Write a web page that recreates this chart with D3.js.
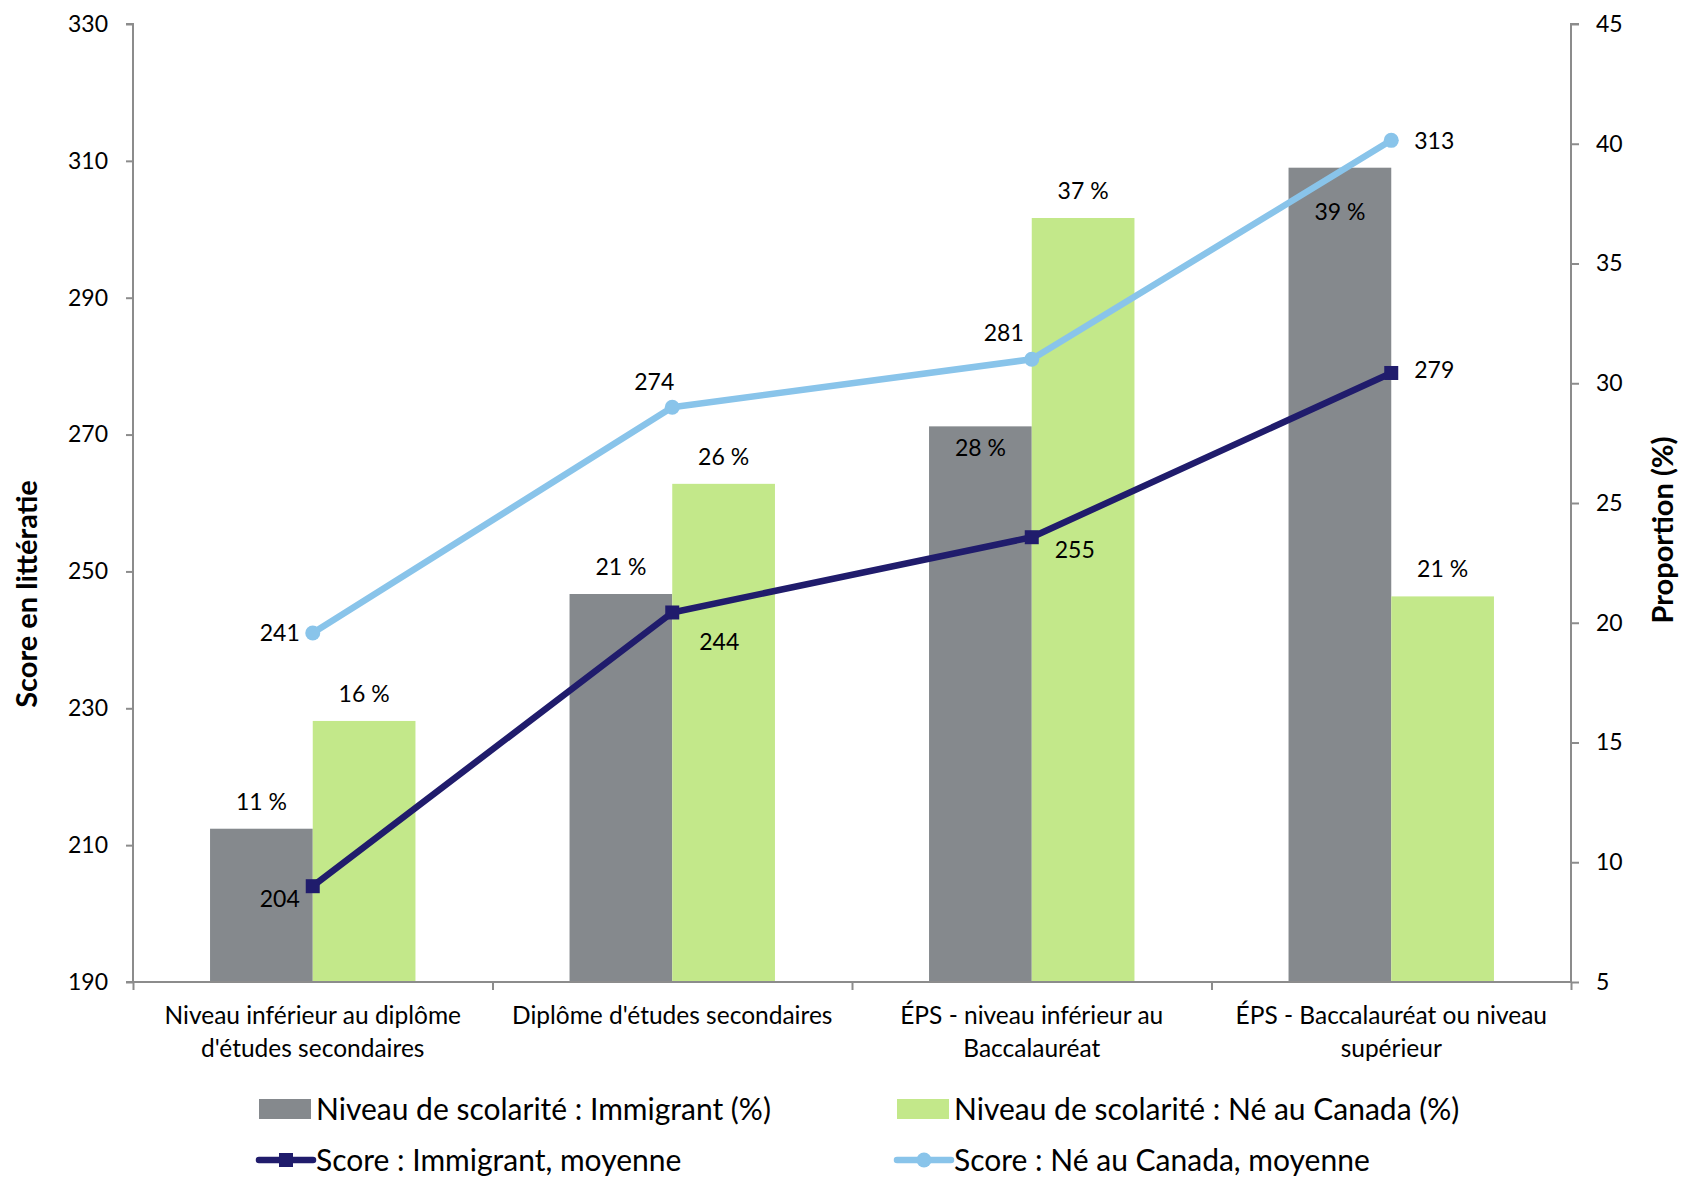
<!DOCTYPE html>
<html><head><meta charset="utf-8">
<script src="https://cdn.jsdelivr.net/npm/d3@7"></script>
<style>
body{margin:0;background:#fff;}
text{font-family:Lato,"Open Sans",sans-serif;fill:#000;}
</style></head>
<body><svg id="c" width="1685" height="1177"></svg>
<script>
const categories = [
  ["Niveau inférieur au diplôme","d'études secondaires"],
  ["Diplôme d'études secondaires"],
  ["ÉPS - niveau inférieur au","Baccalauréat"],
  ["ÉPS - Baccalauréat ou niveau","supérieur"]
];
const immigrantPct = [11.4, 21.2, 28.2, 39.0];
const canadaPct = [15.9, 25.8, 36.9, 21.1];
const immigrantScore = [204, 244, 255, 279];
const canadaScore = [241, 274, 281, 313];
const leftTicks = [190, 210, 230, 250, 270, 290, 310, 330];
const rightTicks = [5, 10, 15, 20, 25, 30, 35, 40, 45];
const seriesNames = ["Niveau de scolarité : Immigrant (%)","Niveau de scolarité : Né au Canada (%)","Score : Immigrant, moyenne","Score : Né au Canada, moyenne"];

// label offsets (layout only)
const barLabelDy = {imm:[-27,-27,22,44], can:[-27,-27,-27,-27]};
const immLabelOff = [[-33,13],[47,29],[43,13],[43,-3]];
const canLabelOff = [[-33,0],[-18,-25],[-28,-26],[43,1]];

const C = {gray:"#85898D", green:"#C3E88A", navy:"#201C6C", blue:"#89C4EA", axis:"#8C8C8C"};
const L = 133, R = 1571, T = 24, B = 982;
const NUM = "23px", CAT = "24.5px", LEG = "30px", TITLE = "29px";
const svg = d3.select("#c");

const x = d3.scaleBand().domain(d3.range(categories.length)).range([L, R]).paddingInner(0).paddingOuter(0);
const yL = d3.scaleLinear().domain([190, 330]).range([B, T]);
const yR = d3.scaleLinear().domain([5, 45]).range([B, T]);
const bw = x.bandwidth() * 0.2857;
const cx = i => x(i) + x.bandwidth() / 2;

// bars
const g = svg.append("g");
g.selectAll(".bi").data(immigrantPct).join("rect")
  .attr("x", (d,i) => cx(i) - bw).attr("width", bw)
  .attr("y", d => yR(d)).attr("height", d => B - yR(d)).attr("fill", C.gray);
g.selectAll(".bc").data(canadaPct).join("rect")
  .attr("x", (d,i) => cx(i)).attr("width", bw)
  .attr("y", d => yR(d)).attr("height", d => B - yR(d)).attr("fill", C.green);

// axes
const axL = svg.append("g").attr("transform", `translate(${L},0)`)
  .call(d3.axisLeft(yL).tickValues(leftTicks).tickSize(7).tickPadding(18));
const axR = svg.append("g").attr("transform", `translate(${R},0)`)
  .call(d3.axisRight(yR).tickValues(rightTicks).tickSize(8).tickPadding(17));
const axB = svg.append("g").attr("transform", `translate(0,${B})`)
  .call(d3.axisBottom(d3.scaleLinear().domain([0,4]).range([L,R])).tickValues([0,1,2,3,4]).tickSize(8).tickFormat(""));
[axL, axR, axB].forEach(a => {
  a.selectAll("path,line").attr("stroke", C.axis).attr("stroke-width", 2);
  a.selectAll("text").style("font-size", NUM).attr("fill", "#000").style("font-family", "Lato");
});
axB.select("path").attr("d", `M${L},0H${R}`);
axL.select("path").attr("d", `M-7,${T}H0V${B}H-7`);
axR.select("path").attr("d", `M8,${T}H0V${B}`);

// category labels
categories.forEach((lines, i) => {
  const t = svg.append("text").attr("x", cx(i)).attr("y", 1024).attr("text-anchor", "middle").style("font-size", CAT);
  lines.forEach((ln, j) => t.append("tspan").attr("x", cx(i)).attr("dy", j ? 33 : 0).text(ln));
});

// lines
const lineGen = (arr) => d3.line().x((d,i) => cx(i)).y(d => yL(d))(arr);
svg.append("path").attr("d", lineGen(canadaScore)).attr("fill", "none").attr("stroke", C.blue).attr("stroke-width", 6.5).attr("stroke-linejoin", "round");
svg.selectAll(".cm").data(canadaScore).join("circle").attr("cx", (d,i) => cx(i)).attr("cy", d => yL(d)).attr("r", 7.5).attr("fill", C.blue);
svg.append("path").attr("d", lineGen(immigrantScore)).attr("fill", "none").attr("stroke", C.navy).attr("stroke-width", 6.5).attr("stroke-linejoin", "round");
svg.selectAll(".im").data(immigrantScore).join("rect").attr("x", (d,i) => cx(i) - 7).attr("y", d => yL(d) - 7).attr("width", 14).attr("height", 14).attr("fill", C.navy);

// bar labels
const fmtP = d => Math.round(d) + " %";
immigrantPct.forEach((d,i) => {
  svg.append("text").attr("x", cx(i) - bw/2).attr("y", yR(d) + barLabelDy.imm[i]).attr("dy", "0.35em").attr("text-anchor", "middle").style("font-size", NUM).text(fmtP(d));
});
canadaPct.forEach((d,i) => {
  svg.append("text").attr("x", cx(i) + bw/2).attr("y", yR(d) + barLabelDy.can[i]).attr("dy", "0.35em").attr("text-anchor", "middle").style("font-size", NUM).text(fmtP(d));
});
// line labels
immigrantScore.forEach((d,i) => {
  svg.append("text").attr("x", cx(i) + immLabelOff[i][0]).attr("y", yL(d) + immLabelOff[i][1]).attr("dy", "0.35em").attr("text-anchor", "middle").style("font-size", NUM).text(d);
});
canadaScore.forEach((d,i) => {
  svg.append("text").attr("x", cx(i) + canLabelOff[i][0]).attr("y", yL(d) + canLabelOff[i][1]).attr("dy", "0.35em").attr("text-anchor", "middle").style("font-size", NUM).text(d);
});

// axis titles
svg.append("text").attr("transform", "translate(27,594) rotate(-90)").attr("text-anchor", "middle").attr("dy", "0.35em").style("font-size", TITLE).style("font-weight", "bold").text("Score en littératie");
svg.append("text").attr("transform", "translate(1663,530) rotate(-90)").attr("text-anchor", "middle").attr("dy", "0.35em").style("font-size", TITLE).style("font-weight", "bold").text("Proportion (%)");

// legend
const lg = svg.append("g");
const legPos = [[259,1109],[897,1109],[259,1160],[897,1160]];
lg.append("rect").attr("x", legPos[0][0]).attr("y", legPos[0][1]-10).attr("width", 52).attr("height", 20).attr("fill", C.gray);
lg.append("rect").attr("x", legPos[1][0]).attr("y", legPos[1][1]-10).attr("width", 52).attr("height", 20).attr("fill", C.green);
lg.append("line").attr("x1", legPos[2][0]).attr("x2", legPos[2][0]+54).attr("y1", legPos[2][1]).attr("y2", legPos[2][1]).attr("stroke", C.navy).attr("stroke-width", 6.5).attr("stroke-linecap","round");
lg.append("rect").attr("x", legPos[2][0]+20).attr("y", legPos[2][1]-7).attr("width", 14).attr("height", 14).attr("fill", C.navy);
lg.append("line").attr("x1", legPos[3][0]).attr("x2", legPos[3][0]+54).attr("y1", legPos[3][1]).attr("y2", legPos[3][1]).attr("stroke", C.blue).attr("stroke-width", 6.5).attr("stroke-linecap","round");
lg.append("circle").attr("cx", legPos[3][0]+27).attr("cy", legPos[3][1]).attr("r", 7.5).attr("fill", C.blue);
seriesNames.forEach((s,i) => {
  lg.append("text").attr("x", legPos[i][0] + 57).attr("y", legPos[i][1]).attr("dy", "0.35em").style("font-size", LEG).text(s);
});
</script></body></html>
